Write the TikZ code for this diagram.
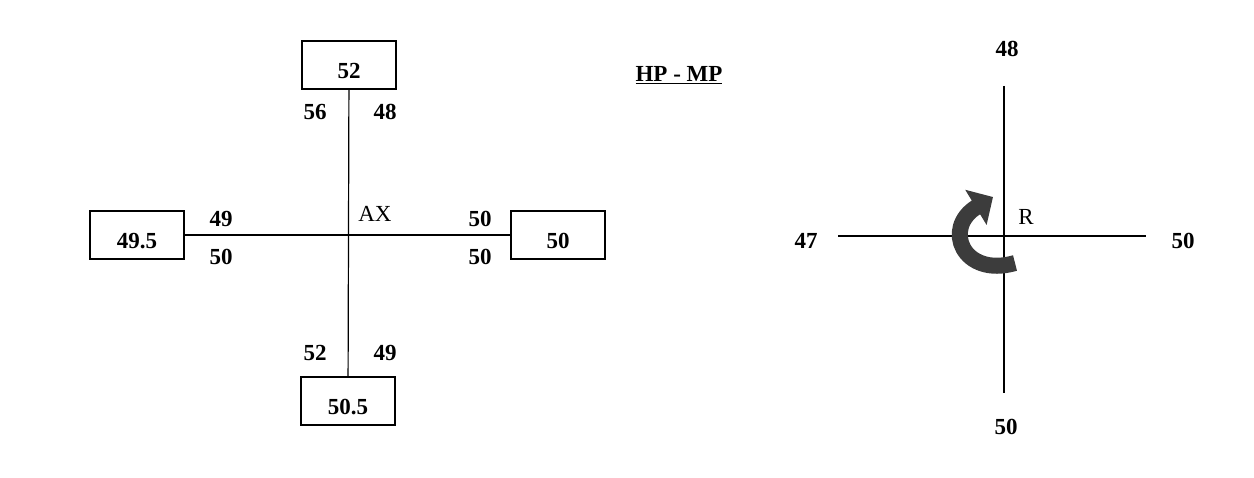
\documentclass[tikz,border=0pt]{standalone}
\usepackage{fontspec}
\setmainfont{Liberation Serif}
\usepackage{tikz}
\usetikzlibrary{arrows.meta,positioning}
\definecolor{arrowgray}{HTML}{3C3C3C}

\begin{document}
\begin{tikzpicture}[x=1pt, y=-1pt,
	num/.style={font=\fontsize{23}{27}\selectfont\bfseries, inner sep=0pt},
	txt/.style={font=\fontsize{23}{27}\selectfont, inner sep=0pt},
	box/.style={num, draw, line width=1.2pt, minimum width=94pt, minimum height=48pt, text height=28pt, text depth=0pt},
	axis/.style={line width=1.2pt}]
	\useasboundingbox (0,0) rectangle (1254,478);
	% Define nodes
	\node[box] (top)    at (349,65)  {52};
	\node[box] (bottom) at (348,401) {50.5};
	\node[box] (left)   at (137,235) {49.5};
	\node[box] (right)  at (558,235) {50};
	\node[num] (tl) at (315,112) {56};
	\node[num] (tr) at (385,112) {48};
	\node[num] (lu) at (221,219) {49};
	\node[num] (ld) at (221,257) {50};
	\node[txt] (ax) at (375,214) {AX};
	\node[num] (ru) at (480,219) {50};
	\node[num] (rd) at (480,257) {50};
	\node[num] (bl) at (315,353) {52};
	\node[num] (br) at (385,353) {49};
	\node[num] (title) at (679,75) {\underline{HP - MP}};
	% Right cross
	\coordinate (n) at (1004,86);
	\coordinate (s) at (1004,393);
	\coordinate (w) at (838,236);
	\coordinate (e) at (1146,236);
	\node[num] (rn) at (1007,49)  {48};
	\node[num] (rs) at (1006,427) {50};
	\node[num] (rw) at (806,241)  {47};
	\node[num] (re) at (1183,241) {50};
	\node[txt] (r)  at (1026,217) {R};
	\coordinate (tail) at (1015,263);
	\coordinate (tip)  at (993,197);
	% Connect the nodes
	\draw[axis] (top) -- (bottom);
	\draw[axis] (left) -- (right);
	\draw[axis] (n) -- (s);
	\draw[axis] (w) -- (e);
	\draw[arrowgray, line width=16pt, -{Triangle[width=40pt,length=20pt]}] (tail) .. controls (963,278) and (942,228) .. (tip);
\end{tikzpicture}
\end{document}
